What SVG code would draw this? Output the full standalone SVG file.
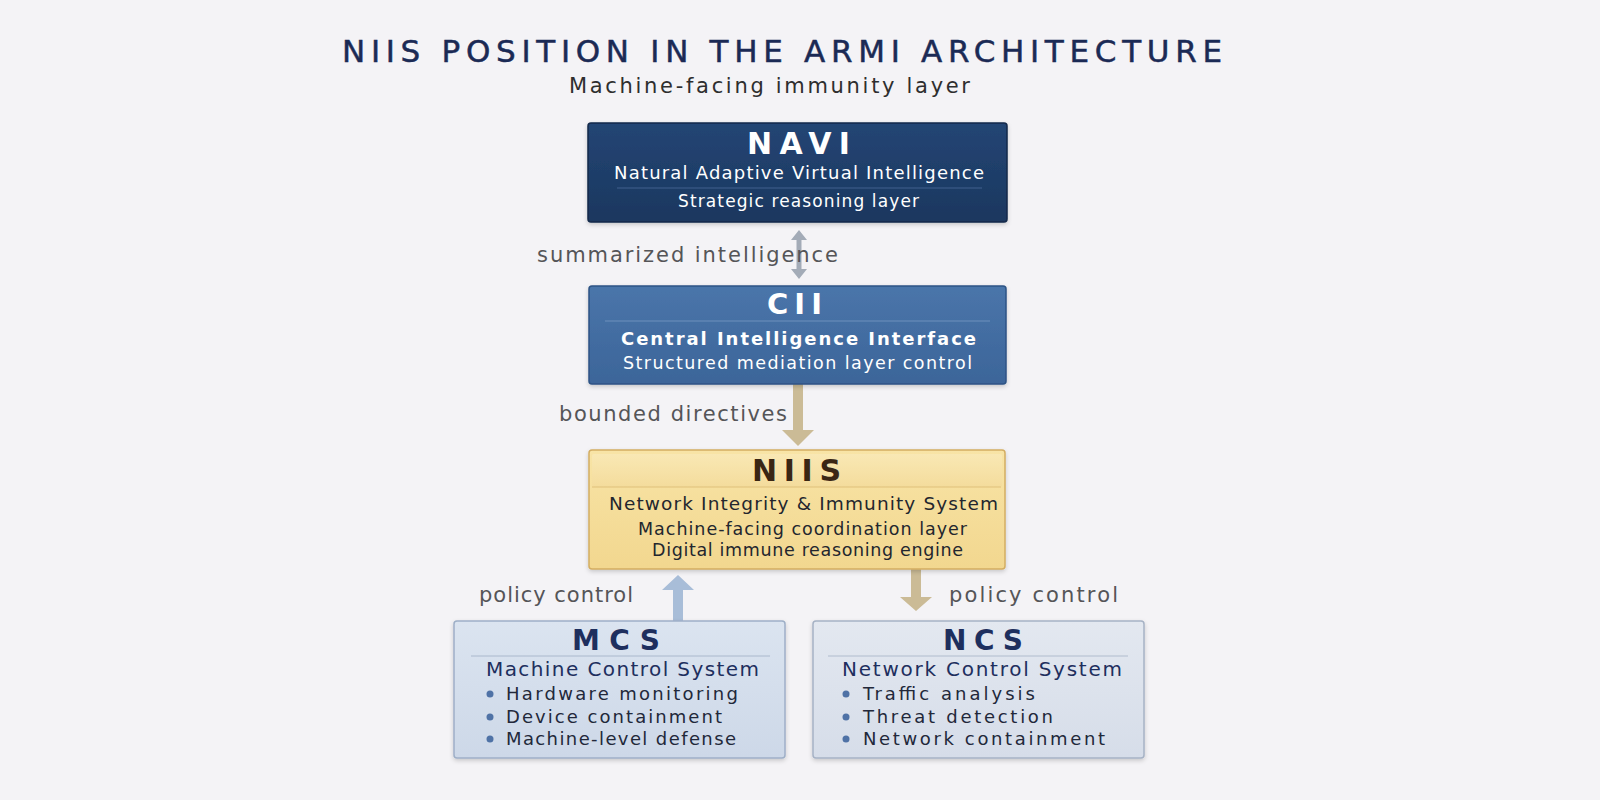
<svg xmlns="http://www.w3.org/2000/svg" width="1600" height="800" viewBox="0 0 1600 800">
<defs>
<style>
text{font-family:"DejaVu Sans","Open Sans",sans-serif;text-anchor:start}
.title{font-size:31px;fill:#1b2a55;stroke:#1b2a55;stroke-width:0.5}
.sub{font-size:21px;fill:#2e2e2e}
.lbl{font-size:21px;fill:#555558}
.wh{fill:#ffffff}
.h{font-size:30px;font-weight:700}
.navy{fill:#1e2f5e}
.dark{fill:#23262e}
.brown{fill:#3a2614}
.item{font-size:18px;fill:#22283a}
.bul{fill:#4f72a6}
</style>
<linearGradient id="gNavi" x1="0" y1="0" x2="0" y2="1"><stop offset="0" stop-color="#234574"/><stop offset="1" stop-color="#1b375f"/></linearGradient>
<linearGradient id="gCii" x1="0" y1="0" x2="0" y2="1"><stop offset="0" stop-color="#4a75aa"/><stop offset="1" stop-color="#3c6599"/></linearGradient>
<linearGradient id="gNiis" x1="0" y1="0" x2="0" y2="1"><stop offset="0" stop-color="#f8e4a6"/><stop offset="1" stop-color="#f2d78f"/></linearGradient>
<linearGradient id="gNiisH" x1="0" y1="0" x2="0" y2="1"><stop offset="0" stop-color="#f9e8b4"/><stop offset="1" stop-color="#f4dc9c"/></linearGradient>
<linearGradient id="gMcs" x1="0" y1="0" x2="0" y2="1"><stop offset="0" stop-color="#dbe4f0"/><stop offset="1" stop-color="#cdd8e8"/></linearGradient>
<linearGradient id="gNcs" x1="0" y1="0" x2="0" y2="1"><stop offset="0" stop-color="#e3e8f0"/><stop offset="1" stop-color="#d6dde9"/></linearGradient>
<filter id="sh" x="-5%" y="-5%" width="110%" height="120%"><feDropShadow dx="0" dy="2" stdDeviation="2" flood-color="#000" flood-opacity="0.18"/></filter>
</defs>
<rect width="1600" height="800" fill="#f4f3f6"/>

<g id="title">
<text class="title" x="342" y="62" textLength="880" lengthAdjust="spacing">NIIS POSITION IN THE ARMI  ARCHITECTURE</text>
<text class="sub" x="569" y="93" textLength="401" lengthAdjust="spacing">Machine-facing immunity layer</text>
</g>

<g id="connectors">
<path d="M796.5 240 V269 h5 V240 z M791 240 L799 230 L807 240 z M791 269 L807 269 L799 279 z" fill="#a3abb7"/>
<text class="lbl" x="537" y="262" textLength="301" lengthAdjust="spacing">summarized intelligence</text>
<path d="M793 384 V430 H782 L798 446 L814 430 H803 V384 z" fill="#cbbb96"/>
<text class="lbl" x="559" y="421" textLength="228" lengthAdjust="spacing">bounded directives</text>
<path d="M673 621 V590 H662 L678 575 L694 590 H683 V621 z" fill="#a8bdd8"/>
<text class="lbl" x="479" y="602" font-size="20" textLength="154" lengthAdjust="spacing">policy control</text>
<path d="M911 569 V597 H900 L916 611 L932 597 H921 V569 z" fill="#cbbb96"/>
<text class="lbl" x="949" y="602" textLength="169" lengthAdjust="spacing">policy control</text>
</g>

<g id="navi">
<rect x="588" y="123" width="419" height="99" rx="3" fill="url(#gNavi)" stroke="#14294a" stroke-width="1.5" filter="url(#sh)"/>
<text class="h wh" x="747" y="154" textLength="103" lengthAdjust="spacing">NAVI</text>
<text class="wh" x="614" y="179" font-size="18" textLength="370" lengthAdjust="spacing">Natural Adaptive Virtual Intelligence</text>
<line x1="617" y1="188" x2="982" y2="188" stroke="#40608e" stroke-width="1"/>
<text class="wh" x="678" y="207" font-size="17" textLength="241" lengthAdjust="spacing">Strategic reasoning layer</text>
</g>

<g id="cii">
<rect x="589" y="286" width="417" height="98" rx="3" fill="url(#gCii)" stroke="#2d5385" stroke-width="1.5" filter="url(#sh)"/>
<text class="wh" x="767" y="314" font-size="29" font-weight="700" textLength="55" lengthAdjust="spacing">CII</text>
<line x1="605" y1="321" x2="990" y2="321" stroke="#6e90bc" stroke-width="1"/>
<text class="wh" x="621" y="345" font-size="18" font-weight="700" textLength="355" lengthAdjust="spacing">Central Intelligence Interface</text>
<text class="wh" x="623" y="369" font-size="17.5" textLength="349" lengthAdjust="spacing">Structured mediation layer control</text>
</g>

<g id="niis">
<rect x="589" y="450" width="416" height="119" rx="3" fill="url(#gNiis)" stroke="#d3ad62" stroke-width="1.5" filter="url(#sh)"/>
<rect x="592" y="454" width="410" height="33" rx="2" fill="url(#gNiisH)"/>
<line x1="592" y1="487" x2="1001" y2="487" stroke="#dfc07a" stroke-width="1"/>
<text class="h brown" x="752" y="481" textLength="89" lengthAdjust="spacing">NIIS</text>
<text class="dark" x="609" y="510" font-size="18.5" textLength="389" lengthAdjust="spacing">Network Integrity &amp; Immunity System</text>
<text class="dark" x="638" y="535" font-size="17.5" textLength="329" lengthAdjust="spacing">Machine-facing coordination layer</text>
<text class="dark" x="652" y="556" font-size="17.5" textLength="311" lengthAdjust="spacing">Digital immune reasoning engine</text>
</g>

<g id="mcs">
<rect x="454" y="621" width="331" height="137" rx="3" fill="url(#gMcs)" stroke="#9eafc7" stroke-width="1.5" filter="url(#sh)"/>
<text class="navy" x="572" y="650" font-size="28" font-weight="700" textLength="88" lengthAdjust="spacing">MCS</text>
<line x1="471" y1="656" x2="770" y2="656" stroke="#aab8cc" stroke-width="1"/>
<text class="navy" x="486" y="676" font-size="20" textLength="273" lengthAdjust="spacing">Machine Control System</text>
<circle class="bul" cx="490" cy="694" r="3.5"/>
<text class="item" x="506" y="700" textLength="232" lengthAdjust="spacing">Hardware monitoring</text>
<circle class="bul" cx="490" cy="717" r="3.5"/>
<text class="item" x="506" y="723" textLength="216" lengthAdjust="spacing">Device containment</text>
<circle class="bul" cx="490" cy="739" r="3.5"/>
<text class="item" x="506" y="745" textLength="230" lengthAdjust="spacing">Machine-level defense</text>
</g>

<g id="ncs">
<rect x="813" y="621" width="331" height="137" rx="3" fill="url(#gNcs)" stroke="#a6b2c5" stroke-width="1.5" filter="url(#sh)"/>
<text class="navy" x="943" y="650" font-size="28" font-weight="700" textLength="80" lengthAdjust="spacing">NCS</text>
<line x1="828" y1="656" x2="1128" y2="656" stroke="#b0bccd" stroke-width="1"/>
<text class="navy" x="842" y="676" font-size="20" textLength="280" lengthAdjust="spacing">Network Control System</text>
<circle class="bul" cx="846" cy="694" r="3.5"/>
<text class="item" x="863" y="700" textLength="172" lengthAdjust="spacing">Traffic analysis</text>
<circle class="bul" cx="846" cy="717" r="3.5"/>
<text class="item" x="863" y="723" textLength="190" lengthAdjust="spacing">Threat detection</text>
<circle class="bul" cx="846" cy="739" r="3.5"/>
<text class="item" x="863" y="745" textLength="242" lengthAdjust="spacing">Network containment</text>
</g>
</svg>
